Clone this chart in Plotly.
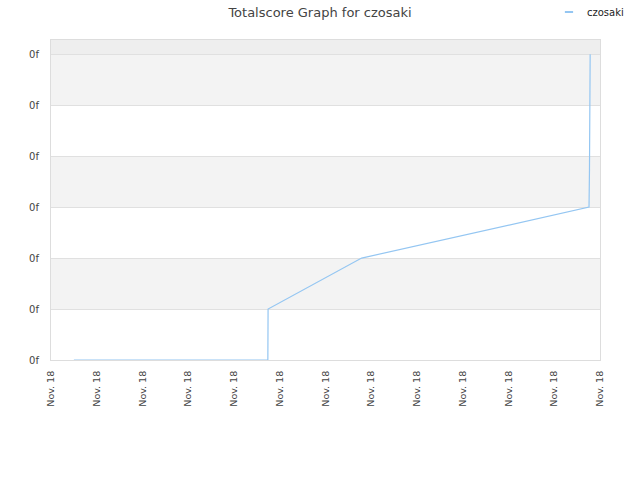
import plotly.graph_objects as go

# data (x in tick-interval units, 0..12)
x_vals = [0.50, 4.74, 4.745, 6.79, 11.76, 11.77, 11.785]
y_vals = [0, 0, 1, 2, 3, 3.73, 6]
x_ticks = list(range(13))
x_labels = ["Nov. 18"] * 13
y_ticks = [0, 1, 2, 3, 4, 5, 6]
y_labels = ["0f"] * 7
series_name = "czosaki"
line_color = "#94c6f2"

fig = go.Figure()
fig.add_trace(go.Scatter(x=x_vals, y=y_vals, mode="lines", name=series_name,
                         line=dict(color=line_color, width=1.2), showlegend=False))

shapes = []
for lo, hi in [(1, 2), (3, 4), (5, 6)]:
    shapes.append(dict(type="rect", xref="paper", yref="y", x0=0, x1=1, y0=lo, y1=hi,
                       fillcolor="#f3f3f3", line=dict(width=0), layer="below"))
shapes.append(dict(type="rect", xref="paper", yref="y", x0=0, x1=1, y0=6, y1=6.28,
                   fillcolor="#eeeeee", line=dict(width=0), layer="below"))
# legend swatch
shapes.append(dict(type="line", xref="paper", yref="paper", x0=0.936, x1=0.951,
                   y0=1.0875, y1=1.0875, line=dict(color=line_color, width=2)))

fig.update_layout(
    width=640, height=480,
    margin=dict(l=51, r=40, t=40, b=120, autoexpand=False),
    paper_bgcolor="white", plot_bgcolor="white",
    font=dict(family="DejaVu Sans", size=10, color="#444"),
    title=dict(text="Totalscore Graph for czosaki", x=0.5, xanchor="center",
               y=0.975, yanchor="middle", font=dict(size=13, color="#444")),
    shapes=shapes,
    annotations=[dict(text=series_name, xref="paper", yref="paper", x=0.9727, y=1.0875,
                      xanchor="left", yanchor="middle", showarrow=False,
                      font=dict(size=10, color="#222"))],
    xaxis=dict(range=[0, 12], tickvals=x_ticks, ticktext=x_labels, tickangle=-90,
               showgrid=False, zeroline=False, showline=True, linecolor="#dddddd",
               mirror=True, ticks="", automargin=False, ticklabelstandoff=6,
               tickfont=dict(size=9.5, color="#444")),
    yaxis=dict(range=[0, 6.28], tickvals=y_ticks, ticktext=y_labels,
               showgrid=True, gridcolor="#e0e0e0", zeroline=False, showline=True,
               linecolor="#dddddd", mirror=True, ticks="", automargin=False,
               ticklabelstandoff=9, tickfont=dict(size=10, color="#444")),
)
fig.write_html("out.html", config={"displayModeBar": False},
               post_script="document.body.style.margin='0';")
